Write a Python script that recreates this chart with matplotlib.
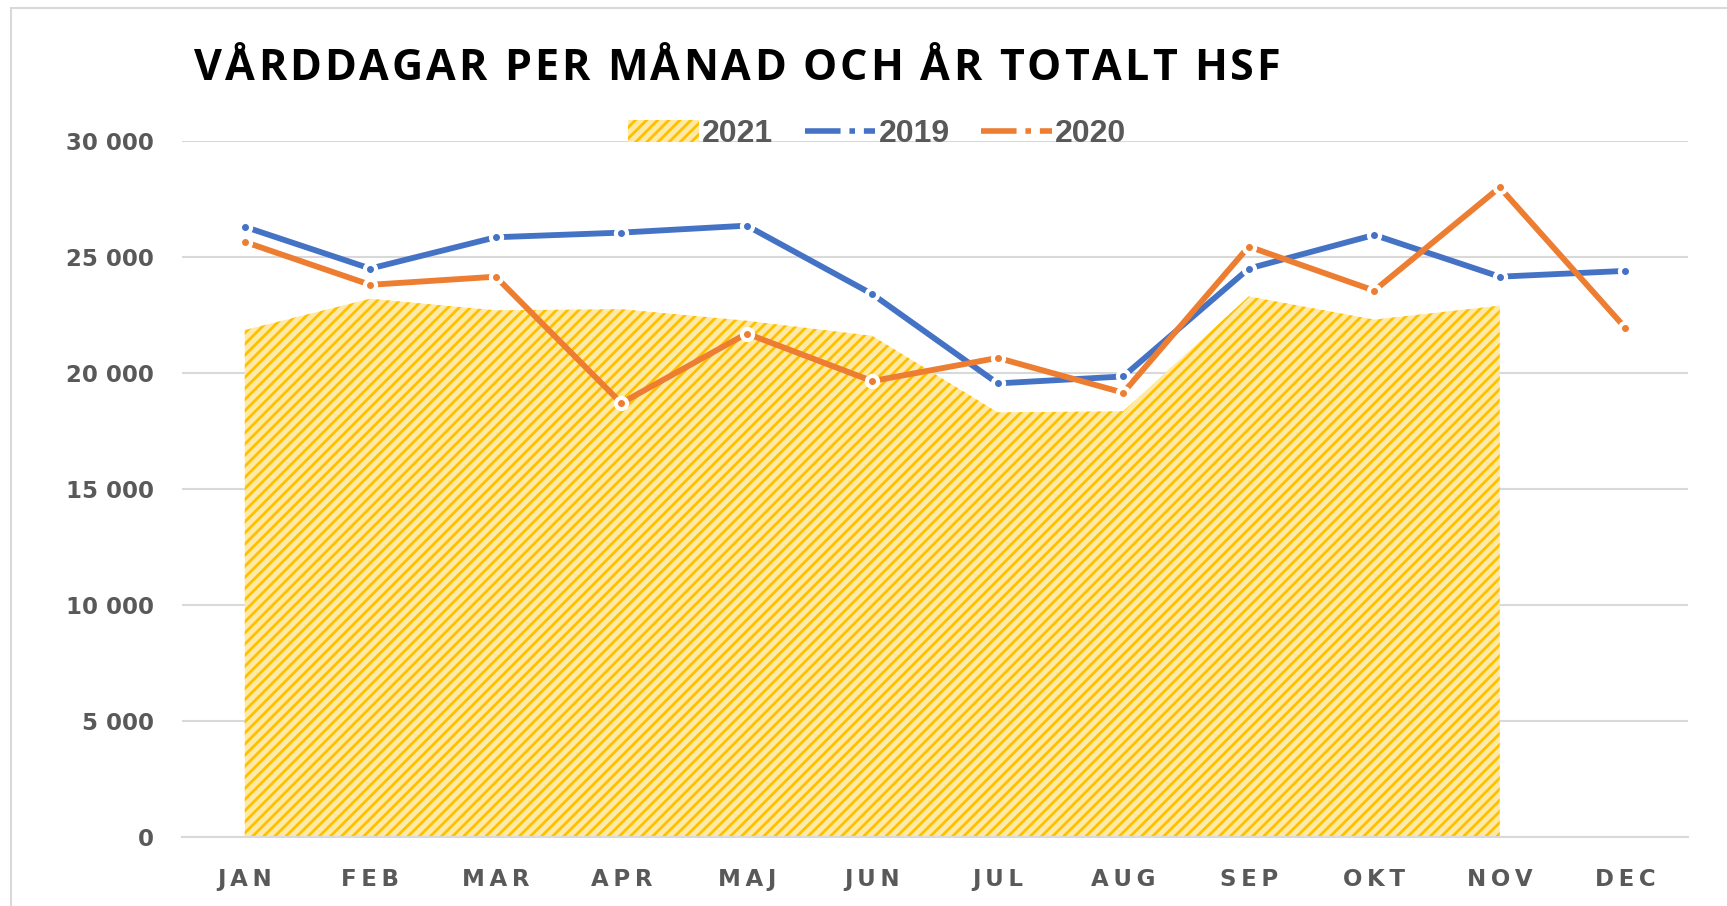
import matplotlib
matplotlib.use("Agg")
import matplotlib.pyplot as plt
from matplotlib.patches import Patch, Rectangle
from matplotlib.lines import Line2D

months = ["JAN", "FEB", "MAR", "APR", "MAJ", "JUN", "JUL", "AUG", "SEP", "OKT", "NOV", "DEC"]
y2019 = [26300, 24500, 25850, 26050, 26350, 23400, 19550, 19850, 24500, 25950, 24150, 24400]
y2020 = [25650, 23800, 24150, 18700, 21700, 19650, 20650, 19150, 25450, 23550, 28000, 21950]
y2021 = [21850, 23200, 22700, 22750, 22250, 21600, 18300, 18350, 23300, 22300, 22900]
yticks = [0, 5000, 10000, 15000, 20000, 25000, 30000]
title = "VÅRDDAGAR PER MÅNAD OCH ÅR TOTALT HSF"

blue = "#4472C4"
orange = "#ED7D31"
gold = "#FFC000"
pale = "#FFE9A6"
grey = "#595959"

plt.rcParams["hatch.linewidth"] = 2.0
plt.rcParams["hatch.color"] = gold

W, H = 1727, 906
fig = plt.figure(figsize=(W / 100, H / 100), dpi=100)
ax = fig.add_axes([0.1054, 0.0762, 0.8720, 0.7682])

x = list(range(len(months)))
x21 = x[:len(y2021)]

ax.fill_between(x21, y2021, 0, facecolor=pale, edgecolor=gold, hatch="///", linewidth=0, zorder=2)

for vals, col in [(y2019, blue), (y2020, orange)]:
    ax.plot(x, vals, color=col, linewidth=4.2, solid_capstyle="butt", zorder=3)
    ax.plot(x, vals, linestyle="none", marker="o", markersize=10, markerfacecolor="white",
            markeredgecolor="white", zorder=4)
    ax.plot(x, vals, linestyle="none", marker="o", markersize=4, markerfacecolor=col,
            markeredgecolor=col, zorder=5)

ax.set_xlim(-0.5, 11.5)
ax.set_ylim(0, 30000)
ax.set_yticks(yticks)
ax.set_yticklabels([f"{v:,}".replace(",", " ") for v in yticks])
ax.set_xticks(x)
ax.set_xticklabels(["\u2009".join(m) for m in months])
for lab in ax.get_xticklabels() + ax.get_yticklabels():
    lab.set_fontweight("bold")
    lab.set_color(grey)
    lab.set_fontsize(16.5)
    lab.set_family("DejaVu Sans")
ax.tick_params(axis="x", length=0, pad=22)
ax.tick_params(axis="y", length=0, pad=20)

ax.grid(axis="y", color="#D9D9D9", linewidth=1.5, zorder=0)
ax.set_axisbelow(True)
for s in ["top", "right", "left"]:
    ax.spines[s].set_visible(False)
ax.spines["bottom"].set_color("#D9D9D9")
ax.spines["bottom"].set_linewidth(1.5)

# title with letter spacing, one character at a time
renderer = fig.canvas.get_renderer()
tx0, tx1, ty = 194, 1280, 80
chars = []
for ch in title:
    t = fig.text(0, 1 - ty / H, ch, fontsize=31, fontweight="bold", family="Open Sans",
                 color="black", va="baseline", ha="left")
    chars.append(t)
widths = []
for ch, t in zip(title, chars):
    if ch == " ":
        t2 = fig.text(0, 0, "A A", fontsize=31, fontweight="bold", family="Open Sans")
        t3 = fig.text(0, 0, "AA", fontsize=31, fontweight="bold", family="Open Sans")
        widths.append(t2.get_window_extent(renderer).width - t3.get_window_extent(renderer).width)
        t2.remove()
        t3.remove()
    else:
        widths.append(t.get_window_extent(renderer).width)
gap = (tx1 - tx0 - sum(widths)) / (len(title) - 1)
pos = tx0
for t, w in zip(chars, widths):
    t.set_x(pos / W)
    pos += w + gap

handles = [
    Patch(facecolor=pale, edgecolor=gold, hatch="///", linewidth=0),
    Line2D([], [], color=blue, linewidth=4, linestyle="-."),
    Line2D([], [], color=orange, linewidth=4, linestyle="-."),
]
fig.legend(handles, ["2021", "2019", "2020"], loc="center", bbox_to_anchor=(0.508, 0.852),
           ncol=3, frameon=False, prop={"family": "Liberation Sans", "weight": "bold", "size": 23},
           labelcolor=grey, handlelength=2.2, handletextpad=0.1, columnspacing=1.0)

fig.patches.append(Rectangle((11 / W, -0.1), 1.2, 1.1 - 8 / H, transform=fig.transFigure,
                             fill=False, edgecolor="#D9D9D9", linewidth=1.5))

fig.savefig("out.png", dpi=100)
